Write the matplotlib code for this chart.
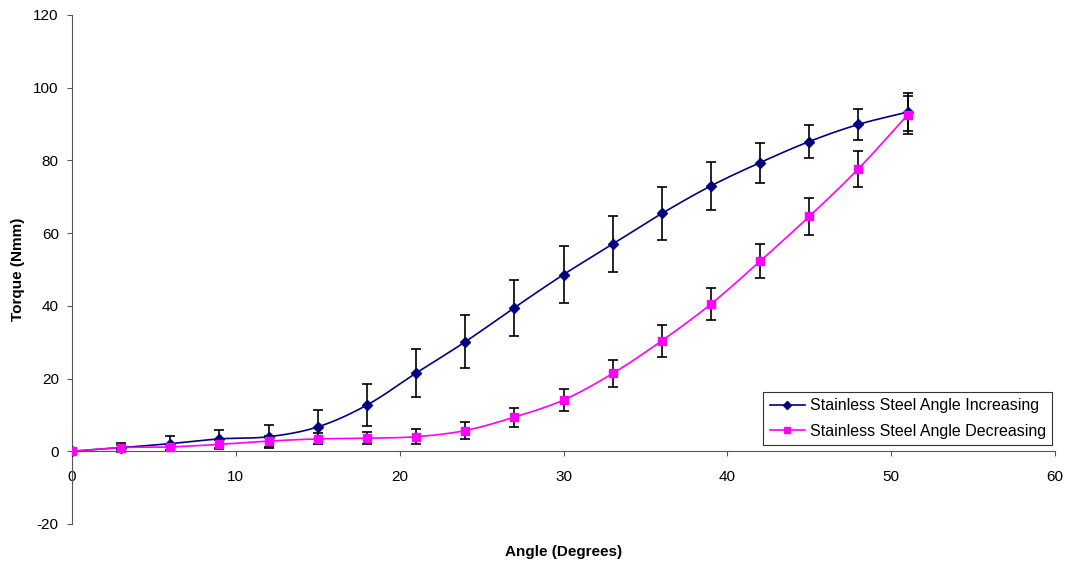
import numpy as np
import matplotlib
matplotlib.use('Agg')
import matplotlib.pyplot as plt

plt.rcParams['font.family'] = ['Liberation Sans', 'DejaVu Sans']
plt.rcParams['axes.unicode_minus'] = False

# ---- data ----
angle = [0, 3, 6, 9, 12, 15, 18, 21, 24, 27, 30, 33, 36, 39, 42, 45, 48, 51]
torque_inc = [0, 1.0, 2.1, 3.4, 4.0, 6.7, 12.7, 21.5, 30.1, 39.5, 48.6, 57.0, 65.4, 73.0, 79.4, 85.2, 89.9, 93.3]
err_inc = [0.5, 1.3, 2.0, 2.4, 3.2, 4.6, 5.7, 6.7, 7.3, 7.7, 7.9, 7.8, 7.4, 6.5, 5.5, 4.6, 4.3, 5.2]
torque_dec = [0, 1.0, 1.2, 1.9, 2.8, 3.4, 3.6, 4.0, 5.7, 9.4, 14.1, 21.4, 30.4, 40.5, 52.3, 64.6, 77.7, 92.5]
err_dec = [0.5, 0.6, 0.8, 1.2, 1.5, 1.5, 1.6, 2.0, 2.3, 2.6, 3.1, 3.6, 4.4, 4.5, 4.7, 5.0, 4.9, 5.3]

labels = ['Stainless Steel Angle Increasing', 'Stainless Steel Angle Decreasing']
colors = ['#000080', '#FF00FF']
markers = ['D', 's']


def smooth(x, y, n=20):
    """Catmull-Rom curve through the points, like Excel's smoothed line."""
    x = np.asarray(x, float); y = np.asarray(y, float)
    px = np.concatenate([[2 * x[0] - x[1]], x, [2 * x[-1] - x[-2]]])
    py = np.concatenate([[2 * y[0] - y[1]], y, [2 * y[-1] - y[-2]]])
    t = np.linspace(0, 1, n, endpoint=False)
    xs, ys = [], []
    for i in range(1, len(px) - 2):
        for p, out in ((px, xs), (py, ys)):
            p0, p1, p2, p3 = p[i - 1], p[i], p[i + 1], p[i + 2]
            out.extend(0.5 * (2 * p1 + (-p0 + p2) * t + (2 * p0 - 5 * p1 + 4 * p2 - p3) * t ** 2
                              + (-p0 + 3 * p1 - 3 * p2 + p3) * t ** 3))
    xs.append(x[-1]); ys.append(y[-1])
    return xs, ys


fig = plt.figure(figsize=(10.7, 5.68), dpi=100)
ax = fig.add_axes([0.0673, 0.0775, 0.9187, 0.8961])

for yv, ev, c, m, lab in zip([torque_inc, torque_dec], [err_inc, err_dec], colors, markers, labels):
    ax.errorbar(angle, yv, yerr=ev, fmt='none', ecolor='black', elinewidth=1.2,
                capsize=3.6, capthick=1.2, zorder=2)
    sx, sy = smooth(angle, yv)
    ax.plot(sx, sy, color=c, lw=1.2, zorder=3)
    ax.plot(angle, yv, ls='none', marker=m, color=c, ms=6 if m == 's' else 5.5, zorder=4)
    ax.plot([], [], color=c, lw=1.2, marker=m, ms=5 if m == 's' else 4.5, label=lab)

ax.set_xlim(0, 60)
ax.set_ylim(-20, 120)
ax.set_xticks(range(0, 61, 10))
ax.set_yticks(range(-20, 121, 20))

for s in ['top', 'right']:
    ax.spines[s].set_visible(False)
ax.spines['bottom'].set_position(('data', 0))
ax.spines['left'].set_color('#555555')
ax.spines['bottom'].set_color('#555555')
ax.tick_params(axis='both', colors='#555555', labelcolor='black', labelsize=11, length=3.5)
ax.tick_params(axis='x', pad=10)
ax.tick_params(axis='y', pad=6)

ax.set_xlabel('Angle (Degrees)', fontsize=11, fontweight='bold')
ax.xaxis.set_label_coords(0.5, -0.041)
ax.set_ylabel('Torque (Nmm)', fontsize=11, fontweight='bold', labelpad=6)

leg = ax.legend(loc='lower right', bbox_to_anchor=(0.997, 0.155), borderaxespad=0,
                fontsize=11.5, frameon=True, fancybox=False, borderpad=0.4,
                handlelength=2.2, labelspacing=0.65, handletextpad=0.3)
leg.get_frame().set_edgecolor('black')
leg.get_frame().set_linewidth(0.8)

fig.savefig('out.png', dpi=100, facecolor='white')
